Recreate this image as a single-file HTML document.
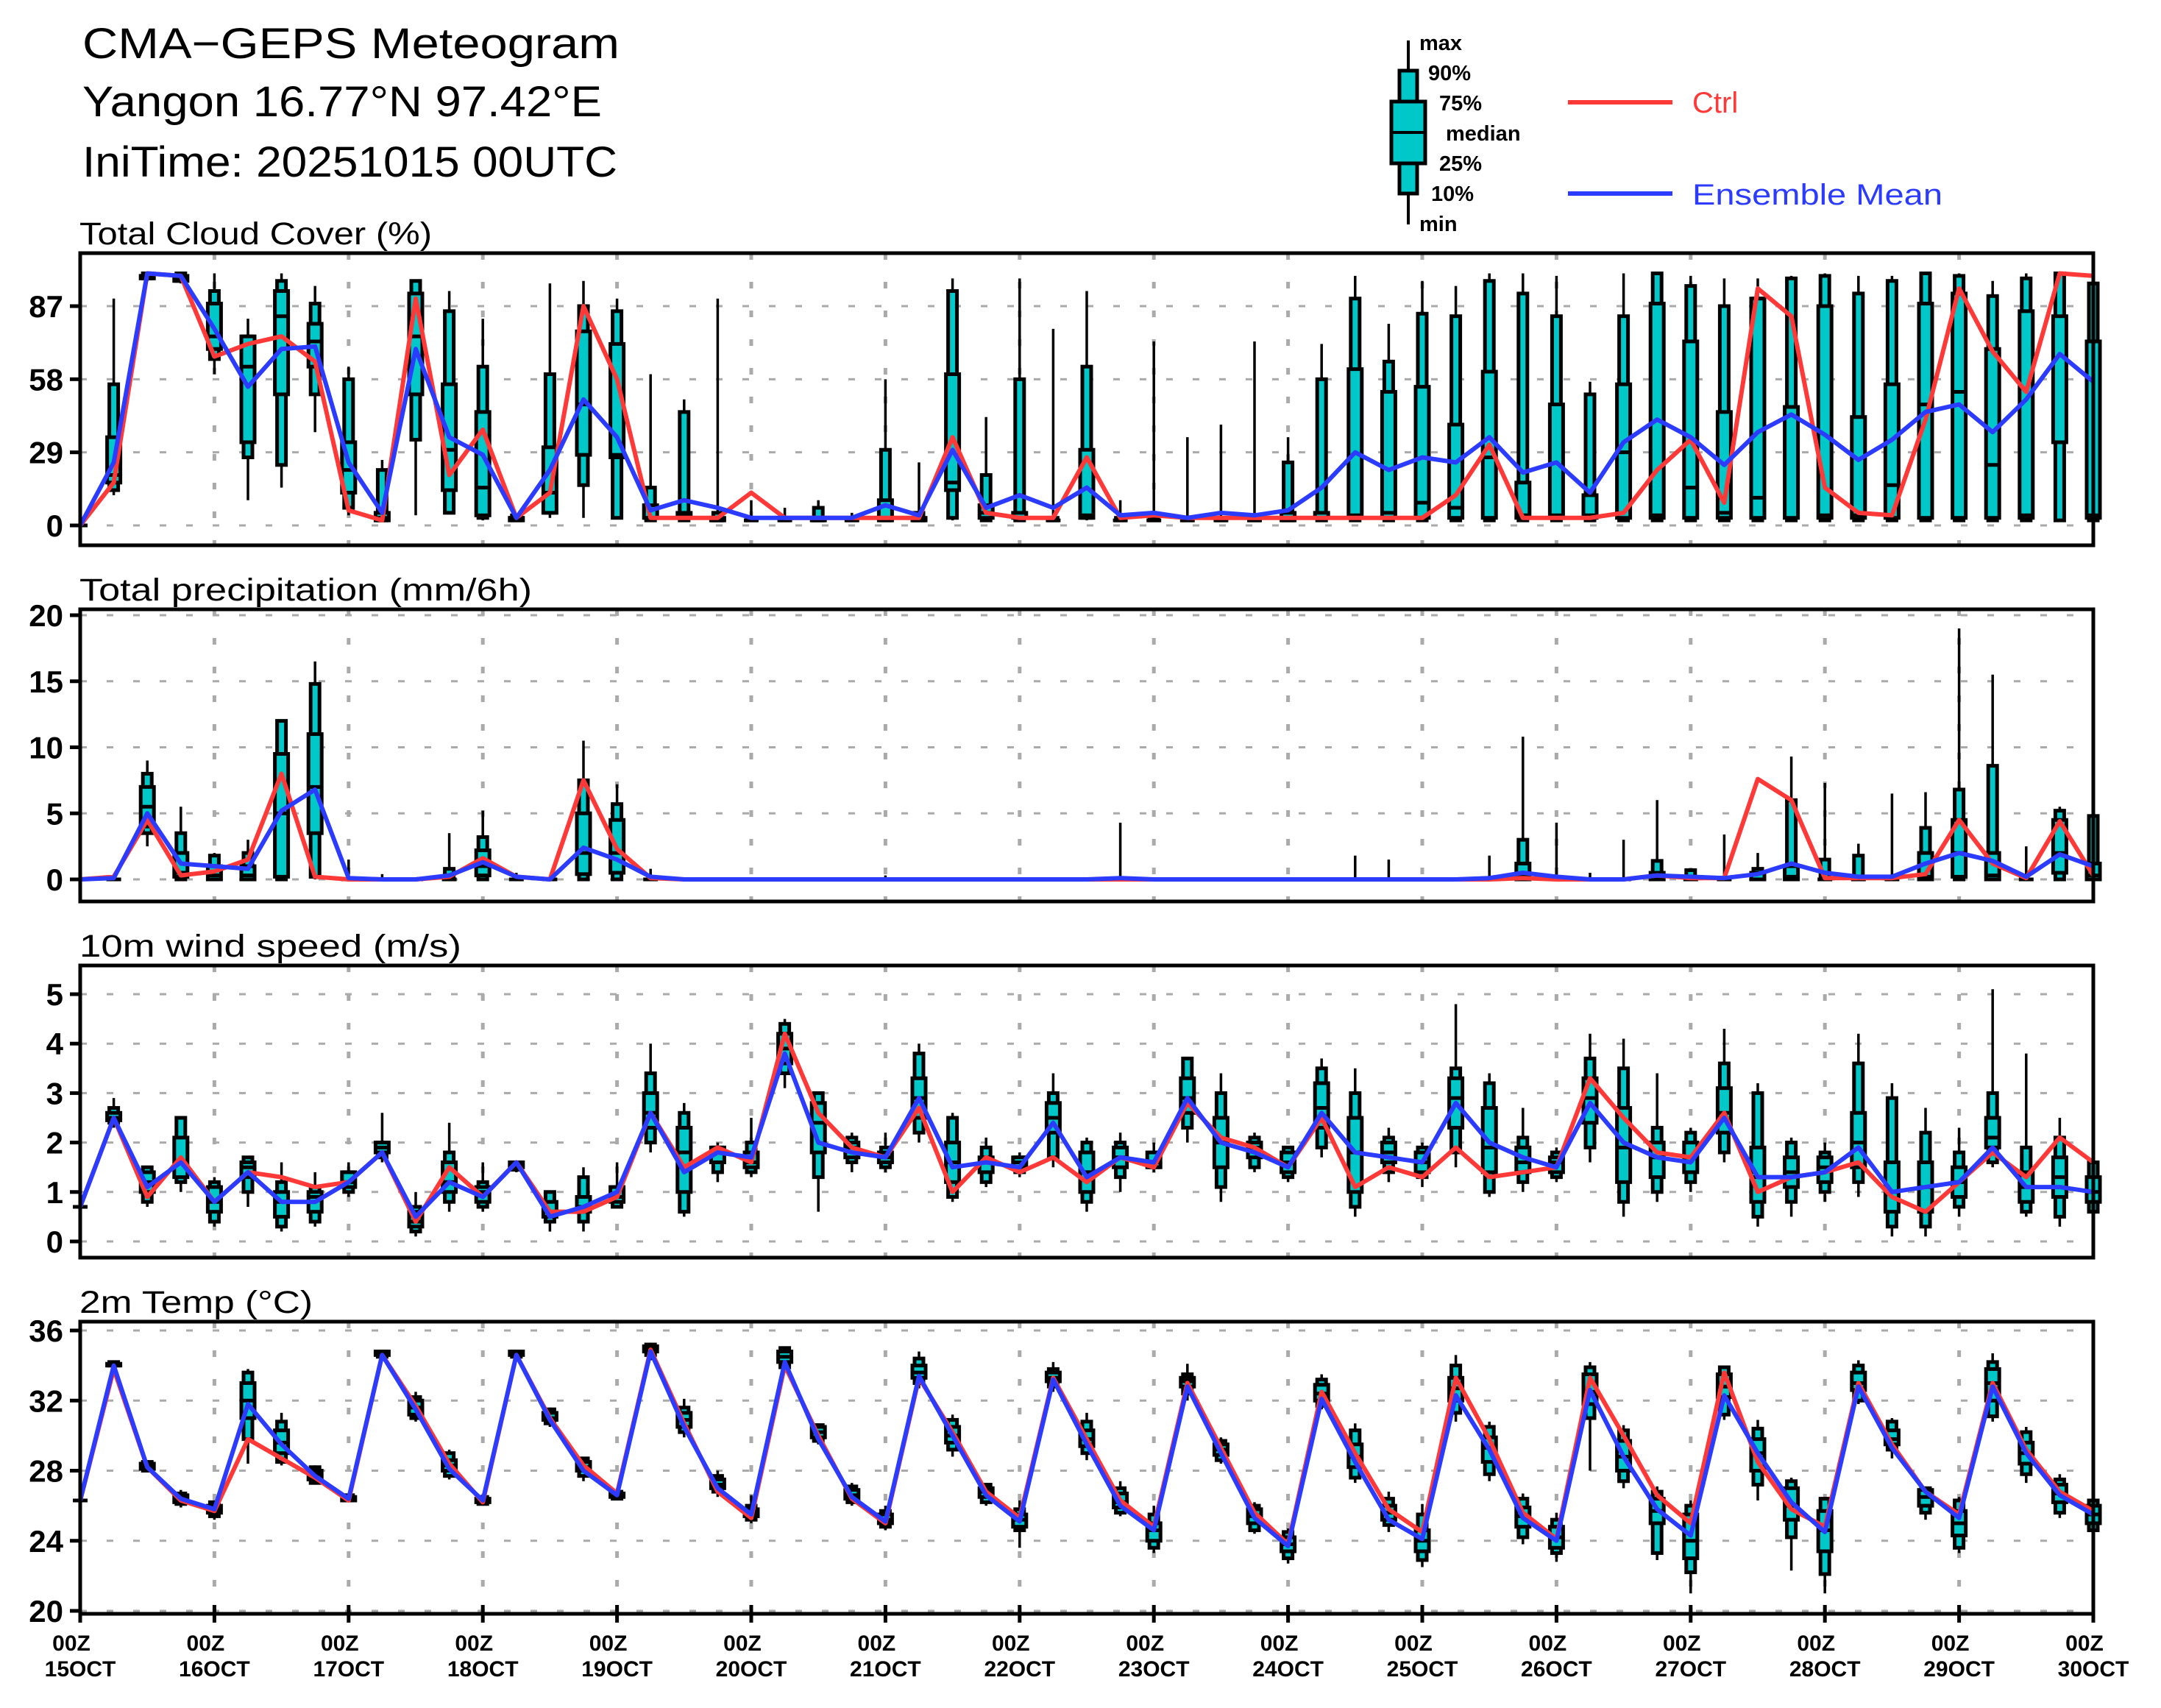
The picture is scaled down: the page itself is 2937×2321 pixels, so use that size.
<!DOCTYPE html>
<html><head><meta charset="utf-8"><title>CMA-GEPS Meteogram</title>
<style>html,body{margin:0;padding:0;background:#fff}svg{display:block}</style></head>
<body>
<svg id="chart" xmlns="http://www.w3.org/2000/svg" width="2937" height="2321" viewBox="0 0 2937 2321">
<rect x="0" y="0" width="2937" height="2321" fill="#fff"/>
<g font-family="Liberation Sans, sans-serif" fill="#000">
<text x="112" y="79" font-size="58" textLength="730" lengthAdjust="spacingAndGlyphs">CMA−GEPS Meteogram</text>
<text x="112" y="158" font-size="58" textLength="706" lengthAdjust="spacingAndGlyphs">Yangon 16.77°N 97.42°E</text>
<text x="112" y="240" font-size="58" textLength="727" lengthAdjust="spacingAndGlyphs">IniTime: 20251015 00UTC</text>
</g>
<g font-family="Liberation Sans, sans-serif" font-weight="bold">
<line x1="1914" y1="55" x2="1914" y2="305" stroke="#000" stroke-width="4"/>
<rect x="1902" y="96" width="24" height="167" fill="#00c8c8" stroke="#000" stroke-width="5"/>
<rect x="1891" y="138" width="46" height="84" fill="#00c8c8" stroke="#000" stroke-width="5"/>
<line x1="1891" y1="180" x2="1937" y2="180" stroke="#000" stroke-width="4"/>
<text x="1929" y="68" font-size="29">max</text>
<text x="1941" y="109" font-size="29">90%</text>
<text x="1956" y="150" font-size="29">75%</text>
<text x="1965" y="191" font-size="29">median</text>
<text x="1956" y="232" font-size="29">25%</text>
<text x="1945" y="273" font-size="29">10%</text>
<text x="1929" y="314" font-size="29">min</text>
<line x1="2131" y1="139" x2="2273" y2="139" stroke="#ff3838" stroke-width="6"/>
<text x="2300" y="153" font-size="40" fill="#ff3838" font-weight="normal">Ctrl</text>
<line x1="2131" y1="263" x2="2273" y2="263" stroke="#2b3bff" stroke-width="6"/>
<text x="2300" y="278" font-size="40" fill="#2b3bff" font-weight="normal" textLength="340" lengthAdjust="spacingAndGlyphs">Ensemble Mean</text>
</g>
<g id="panels"></g>
</svg>
<script>
// ---- Total cloud cover (%) ----
const cloudMin=[0,12,97,96,60,10,15,37,4,2, 4,5,2,2,3,3,3,2,2,2, 2,2,2,2,2,2,2,2,2,2, 2,2,2,2,2,2,2,2,2,2, 2,2,2,2,2,2,2,2,2,2, 2,2,2,2,2,2,2,2,2,2, 2];
const cloudP10=[0,14,98,97,66,27,24,52,7,2, 34,5,3,2,5,16,3,2,2,2, 2,2,2,2,2,2,3,2,2,2, 3,2,2,2,2,2,2,2,2,2, 2,2,2,2,2,2,2,2,2,2, 2,2,2,2,2,2,2,2,2,2, 2];
const cloudP25=[0,17,98,97,70,33,52,63,13,2, 52,14,4,2,5,28,27,3,3,2, 2,2,2,2,2,2,14,3,3,2, 3,2,2,2,2,2,2,3,3,3, 3,3,3,3,3,3,3,3,3,3, 3,3,3,3,3,3,3,3,3,33, 3];
const cloudMed=[0,20,99,98,75,63,83,73,22,3, 75,30,15,3,13,48,28,3,4,2, 2,2,2,2,3,2,17,5,3,2, 4,2,2,2,2,2,3,3,4,5, 9,7,27,4,4,4,29,4,15,5, 11,47,4,4,16,48,53,24,4,33, 4];
const cloudP75=[0,35,99,99,88,75,93,80,33,5, 92,56,45,3,31,77,72,8,5,3, 2,2,3,2,10,3,60,8,5,2, 30,2,2,2,2,2,5,5,62,53, 55,40,61,17,48,12,56,88,73,45, 90,47,87,43,56,88,92,70,85,83, 73];
const cloudP90=[0,56,100,100,93,75,97,88,58,22, 97,85,63,4,60,87,85,15,45,5, 3,3,7,3,30,5,93,20,58,3, 63,3,3,3,3,3,25,58,90,65, 84,83,97,92,83,52,83,100,95,87, 90,98,99,92,97,100,99,91,98,100, 96];
const cloudMax=[0,90,100,100,100,82,100,95,63,26, 97,93,82,4,96,97,90,60,50,90, 10,7,10,5,58,25,98,43,98,78, 93,10,73,35,40,73,35,72,99,80, 97,95,100,100,99,57,100,100,99,98, 98,99,100,99,99,100,100,97,100,100, 100];
const cloudCtrl=[0,17,100,99,67,72,75,65,6,2, 90,20,38,3,13,87,58,3,3,3, 13,3,3,3,3,3,35,5,3,3, 27,3,4,3,3,3,3,3,3,3, 3,12,32,3,3,3,5,22,34,9, 94,83,15,5,4,42,94,69,53,100, 99];
const cloudMean=[0,25,100,99,78,55,70,71,25,5, 70,35,28,3,22,50,35,6,10,7, 3,3,3,3,8,4,30,7,12,7, 15,4,5,3,5,4,6,15,29,22, 27,25,35,21,25,13,33,42,35,24, 37,44,36,26,34,45,48,37,50,68, 57];
const cloudTicks=[0,29,58,87];

// ---- Total precipitation (mm/6h) ----
const precMin=[0,0,2.5,0,0,0,0,0,0,0, 0,0,0,0,0,0,0,0,0,0, 0,0,0,0,0,0,0,0,0,0, 0,0,0,0,0,0,0,0,0,0, 0,0,0,0,0,0,0,0,0,0, 0,0,0,0,0,0,0,0,0,0, 0];
const precP10=[0,0,3.5,0,0,0,0,0.2,0,0, 0,0,0,0,0,0,0,0,0,0, 0,0,0,0,0,0,0,0,0,0, 0,0,0,0,0,0,0,0,0,0, 0,0,0,0,0,0,0,0,0,0, 0,0,0,0,0,0,0,0,0,0, 0];
const precP25=[0,0,4,0.2,0,0,0.2,3.5,0,0, 0,0,0.3,0,0,0.4,0.5,0,0,0, 0,0,0,0,0,0,0,0,0,0, 0,0,0,0,0,0,0,0,0,0, 0,0,0,0,0,0,0,0,0,0, 0,0,0,0,0,0,0.2,0,0,0.5, 0];
const precMed=[0,0,5.5,0.5,0.3,0.3,5,7,0,0, 0,0,1,0,0,2,2,0,0,0, 0,0,0,0,0,0,0,0,0,0, 0,0,0,0,0,0,0,0,0,0, 0,0,0,0.2,0,0,0,0,0,0, 0,0.2,0,0,0,0.2,2,0.3,0,2, 0.3];
const precP75=[0,0,7,2,1,1,9.5,11,0,0, 0,0,2.2,0,0,5,4.5,0,0,0, 0,0,0,0,0,0,0,0,0,0, 0,0,0,0,0,0,0,0,0,0, 0,0,0,1.2,0,0,0,0.5,0,0, 0.5,1,0,0,0,2,4.5,2,0,4.5, 1.2];
const precP90=[0,0,8,3.5,1.8,2,12,14.8,0,0, 0,0.8,3.2,0,0,7.5,5.7,0,0,0, 0,0,0,0,0,0,0,0,0,0, 0,0,0,0,0,0,0,0,0,0, 0,0,0,3,0,0,0,1.4,0.7,0, 0.8,6,1.5,1.8,0,3.9,6.8,8.6,0,5.2, 4.8];
const precMax=[0,0,9,5.5,2,3,12,16.5,1.5,0.4, 0,3.5,5.2,0.5,0,10.5,7.2,0.8,0,0, 0,0,0,0,0.3,0,0,0,0,0, 0,4.3,0,0,0,0,0,0,1.8,1.5, 0,0,1.8,10.8,4.3,0.5,3,6,0.8,3.4, 2,9.3,7.3,2.7,6.5,6.6,19,15.5,2.5,5.5, 4.8];
const precCtrl=[0,0.2,4.5,0.3,0.6,1.5,8,0.2,0,0, 0,0.2,1.6,0.2,0,7.5,2.3,0.1,0,0, 0,0,0,0,0,0,0,0,0,0, 0,0,0,0,0,0,0,0,0,0, 0,0,0,0.1,0,0,0,0.3,0.1,0.1, 7.6,6,0.1,0.1,0.1,0.4,4.5,1.2,0.1,4.4, 0.3];
const precMean=[0,0.1,5,1.2,1.0,0.8,5.2,6.8,0.1,0, 0,0.3,1.3,0.2,0,2.4,1.5,0.2,0,0, 0,0,0,0,0,0,0,0,0,0, 0,0.1,0,0,0,0,0,0,0,0, 0,0,0.1,0.5,0.2,0,0,0.3,0.2,0.1, 0.4,1.2,0.5,0.2,0.2,1.2,2.0,1.4,0.2,1.9, 1.0];
const precTicks=[0,5,10,15,20];

// ---- 10m wind speed (m/s) ----
const windMin=[0.7,2.3,0.7,1.0,0.3,0.7,0.2,0.3,0.9,1.6, 0.1,0.6,0.6,1.4,0.2,0.2,0.7,1.8,0.5,1.2, 1.3,3.1,0.6,1.4,1.4,2.0,0.8,1.1,1.3,1.5, 0.6,1.0,1.4,2.0,0.8,1.4,1.2,1.7,0.5,1.2, 1.1,1.5,0.9,1.0,1.2,1.6,0.5,0.8,1.0,1.6, 0.3,0.5,0.8,0.9,0.1,0.1,0.5,1.5,0.5,0.3, 0.5];
const windP10=[0.7,2.4,0.8,1.2,0.4,1.0,0.3,0.4,1.0,1.7, 0.2,0.8,0.7,1.45,0.4,0.4,0.7,2.0,0.6,1.4, 1.4,3.4,1.3,1.6,1.5,2.2,0.9,1.2,1.4,1.7, 0.8,1.3,1.5,2.3,1.1,1.5,1.3,1.9,0.7,1.4, 1.3,1.8,1.0,1.2,1.3,1.9,0.8,1.0,1.2,1.8, 0.5,0.8,1.0,1.2,0.3,0.3,0.7,1.6,0.6,0.5, 0.6];
const windP25=[0.7,2.45,1.0,1.3,0.6,1.3,0.5,0.6,1.1,1.8, 0.3,1.0,0.8,1.5,0.5,0.6,0.8,2.3,1.0,1.6, 1.5,3.6,1.8,1.7,1.6,2.5,1.2,1.4,1.5,2.2, 1.0,1.5,1.5,2.6,1.5,1.7,1.4,2.3,1.0,1.6, 1.4,2.3,1.4,1.4,1.4,2.4,1.2,1.3,1.4,2.2, 0.8,1.1,1.2,1.5,0.6,0.6,0.9,1.9,0.8,0.9, 0.8];
const windMed=[0.7,2.5,1.2,1.6,0.8,1.5,0.8,0.9,1.2,1.9, 0.4,1.2,1.0,1.55,0.6,0.7,0.9,2.6,1.8,1.8, 1.6,3.9,2.4,1.9,1.7,2.9,1.6,1.6,1.6,2.5, 1.4,1.7,1.6,2.9,2.0,1.9,1.6,2.7,1.8,1.8, 1.6,2.9,1.9,1.6,1.6,2.9,1.9,1.7,1.7,2.6, 1.3,1.4,1.5,2.0,1.0,1.1,1.2,2.1,1.1,1.3, 1.0];
const windP75=[0.7,2.6,1.4,2.1,1.1,1.6,1.0,1.0,1.4,2.0, 0.6,1.6,1.1,1.6,0.8,0.9,1.1,3.0,2.3,1.9, 1.8,4.2,2.8,2.0,1.8,3.3,2.0,1.7,1.7,2.8, 1.8,1.9,1.8,3.3,2.5,2.0,1.8,3.2,2.5,2.0, 1.8,3.3,2.7,1.9,1.7,3.3,2.7,2.0,2.0,3.1, 1.9,1.7,1.7,2.6,1.6,1.6,1.5,2.5,1.4,1.7, 1.3];
const windP90=[0.7,2.7,1.5,2.5,1.2,1.7,1.2,1.1,1.4,2.0, 0.7,1.8,1.2,1.6,1.0,1.3,1.1,3.4,2.6,1.9, 2.0,4.4,3.0,2.1,1.9,3.8,2.5,1.9,1.7,3.0, 2.0,2.0,1.8,3.7,3.0,2.1,1.9,3.5,3.0,2.1, 1.9,3.5,3.2,2.1,1.8,3.7,3.5,2.3,2.2,3.6, 3.0,2.0,1.8,3.6,2.9,2.2,1.8,3.0,1.9,2.1, 1.6];
const windMax=[0.7,2.9,1.5,2.5,1.3,1.7,1.6,1.4,1.6,2.6, 1.0,2.4,1.6,1.6,1.0,1.5,1.6,4.0,2.8,2.0, 2.5,4.5,3.0,2.2,2.2,4.0,2.6,2.1,1.8,3.4, 2.1,2.2,2.0,3.7,3.4,2.2,1.9,3.7,3.5,2.3, 2.0,4.8,3.4,2.7,1.9,4.2,4.1,3.4,2.3,4.3, 3.2,2.1,2.0,4.2,3.2,2.7,2.3,5.1,3.8,2.5, 1.8];
const windCtrl=[0.7,2.5,0.9,1.7,0.8,1.4,1.3,1.1,1.2,1.8, 0.4,1.5,0.9,1.6,0.6,0.6,0.9,2.6,1.5,1.9, 1.6,4.2,2.6,1.9,1.7,2.7,1.0,1.7,1.4,1.7, 1.2,1.7,1.5,2.8,2.1,1.9,1.5,2.5,1.1,1.5, 1.3,1.9,1.3,1.4,1.5,3.3,2.5,1.8,1.7,2.6, 1.0,1.3,1.4,1.6,0.9,0.6,1.2,1.8,1.3,2.1, 1.6];
const windMean=[0.7,2.5,1.1,1.6,0.8,1.4,0.8,0.8,1.2,1.8, 0.5,1.2,0.9,1.6,0.5,0.7,1.0,2.6,1.4,1.8, 1.7,3.8,2.0,1.8,1.7,2.9,1.5,1.6,1.5,2.4, 1.3,1.7,1.6,2.9,2.0,1.8,1.5,2.6,1.8,1.7, 1.6,2.8,2.0,1.7,1.5,2.8,2.0,1.7,1.6,2.5, 1.3,1.3,1.4,1.9,1.0,1.1,1.2,1.9,1.1,1.1, 1.0];
const windTicks=[0,1,2,3,4,5];

// ---- 2m temperature (°C) ----
const tempMin=[26.3,33.9,27.9,25.9,25.2,28.4,28.3,27.2,26.2,34.4, 30.8,27.5,26.0,34.5,30.5,27.4,26.3,34.3,29.9,26.5, 25.0,33.6,29.5,26.0,24.6,32.7,28.8,26.0,23.6,32.5, 28.6,25.4,23.3,32.0,28.4,24.4,22.7,31.5,27.3,24.5, 22.5,30.8,27.4,23.8,22.8,28.0,27.0,22.9,21.0,30.9, 26.3,22.3,21.0,31.8,28.7,25.2,23.3,30.8,27.3,25.3, 24.2];
const tempP10=[26.3,34.0,28.0,26.1,25.4,29.8,28.5,27.3,26.3,34.5, 31.0,27.7,26.1,34.5,30.7,27.7,26.4,34.6,30.2,26.8, 25.2,33.9,29.7,26.2,24.8,33.0,29.2,26.2,24.6,32.8, 29.0,25.6,23.6,32.4,28.6,24.6,23.0,31.7,27.6,24.9, 22.9,31.3,27.8,24.2,23.3,31.0,27.4,23.3,22.2,31.2, 27.2,24.2,22.1,32.0,29.2,25.6,23.6,31.1,27.8,25.6, 24.6];
const tempP25=[26.3,34.0,28.1,26.2,25.6,31.0,29.0,27.5,26.3,34.6, 31.2,28.0,26.2,34.6,30.9,28.0,26.5,34.8,30.5,27.0, 25.4,34.2,29.9,26.4,25.0,33.3,29.6,26.5,24.8,33.1, 29.4,25.9,24.0,32.8,28.9,25.0,23.4,32.0,28.2,25.2, 23.4,32.0,28.5,24.8,23.6,31.8,28.0,25.0,23.0,32.2, 28.0,25.2,23.4,32.6,29.5,26.0,24.3,32.0,28.4,26.2, 25.0];
const tempMed=[26.3,34.0,28.2,26.4,25.8,32.0,29.6,27.8,26.4,34.7, 31.6,28.3,26.3,34.7,31.0,28.2,26.6,34.9,30.9,27.2, 25.6,34.5,30.2,26.6,25.2,33.6,30.0,26.8,25.2,33.3, 29.8,26.2,24.6,33.1,29.2,25.4,23.8,32.4,28.8,25.6, 24.0,32.7,29.3,25.4,24.2,32.5,28.8,25.7,24.0,32.8, 29.0,26.0,24.6,33.0,29.8,26.5,25.0,33.0,29.0,26.7, 25.5];
const tempP75=[26.3,34.1,28.4,26.6,26.0,33.0,30.3,28.0,26.5,34.8, 32.0,28.6,26.4,34.8,31.3,28.5,26.7,35.1,31.3,27.5, 25.8,34.8,30.5,26.9,25.5,34.0,30.5,27.0,25.5,33.6, 30.3,26.7,25.0,33.3,29.5,25.8,24.2,32.9,29.5,26.0, 24.6,33.3,29.9,25.9,24.8,33.5,29.7,26.4,25.5,33.5, 29.8,27.0,25.7,33.6,30.3,26.9,25.7,33.8,29.6,27.2, 26.0];
const tempP90=[26.3,34.2,28.5,26.7,26.2,33.6,30.8,28.2,26.6,34.8, 32.2,29.0,26.5,34.8,31.5,28.7,26.8,35.2,31.6,27.7, 26.0,35.0,30.6,27.1,25.7,34.4,30.9,27.2,25.8,33.8, 30.8,27.0,25.5,33.5,29.7,26.0,24.5,33.2,30.3,26.4, 25.5,34.0,30.5,26.4,25.2,33.9,30.3,26.8,26.0,33.9, 30.4,27.4,26.4,34.0,30.8,27.0,26.3,34.2,30.2,27.5, 26.3];
const tempMax=[26.3,34.2,28.6,26.9,26.3,33.8,31.3,28.3,26.6,34.9, 32.5,29.2,26.6,34.9,31.6,28.7,26.8,35.3,32.1,28.0, 26.6,35.0,30.7,27.3,26.0,34.8,31.2,27.3,26.3,34.2, 31.3,27.4,26.0,34.1,29.9,26.2,24.7,33.5,30.7,26.8, 26.1,34.6,30.8,26.7,25.6,34.2,30.6,27.1,26.3,34.0, 30.9,27.6,26.5,34.3,31.0,27.1,26.5,34.7,30.5,27.8, 26.5];
const tempCtrl=[26.3,33.8,28.2,26.3,25.7,29.8,28.7,27.6,26.3,34.6, 31.7,28.4,26.2,34.6,31.0,28.3,26.7,34.9,30.7,26.8, 25.3,34.0,30.0,26.4,25.0,33.3,30.2,26.8,25.3,33.3, 29.8,26.3,24.8,33.0,29.3,25.6,23.8,32.5,29.0,25.8, 24.5,33.3,29.8,25.6,24.1,33.3,30.0,26.6,25.0,33.6, 28.5,25.8,24.8,33.0,29.5,26.8,25.5,33.0,29.2,26.8, 25.7];
const tempMean=[26.3,34.0,28.2,26.4,25.8,31.8,29.5,27.7,26.4,34.6, 31.5,28.1,26.3,34.6,30.9,28.0,26.6,34.8,30.5,27.0, 25.5,34.2,29.8,26.5,25.1,33.4,30.0,26.6,25.1,33.2, 29.5,26.0,24.6,32.8,29.0,25.3,23.7,32.1,28.5,25.2, 24.1,32.3,29.2,25.3,24.0,32.6,28.8,25.8,24.3,32.3, 29.0,26.2,24.5,32.8,29.3,26.8,25.3,32.8,29.0,26.6, 25.5];
const tempTicks=[20,24,28,32,36];

// ---- time axis ----
const dayLabels=["15OCT","16OCT","17OCT","18OCT","19OCT","20OCT","21OCT","22OCT","23OCT","24OCT","25OCT","26OCT","27OCT","28OCT","29OCT","30OCT"];

const NS="http://www.w3.org/2000/svg";
const LEFT=109, RIGHT=2845, NSTEP=60, PH=397;
function xAt(i){return LEFT+(RIGHT-LEFT)*i/NSTEP;}
function mk(tag,attrs,parent){const e=document.createElementNS(NS,tag);for(const k in attrs)e.setAttribute(k,attrs[k]);parent.appendChild(e);return e;}
function linScale(v0,y0,v1,y1){return v=>y0+(v-v0)*(y1-y0)/(v1-v0);}

const root=document.getElementById('panels');
const panels=[
 {key:'cloud',title:'Total Cloud Cover (%)',tw:479,top:344,scale:linScale(0,344+370,87,344+72),ticks:cloudTicks,
  s:[cloudMin,cloudP10,cloudP25,cloudMed,cloudP75,cloudP90,cloudMax],ctrl:cloudCtrl,mean:cloudMean},
 {key:'precip',title:'Total precipitation (mm/6h)',tw:615,top:828,scale:linScale(0,828+367,20,828+8),ticks:precTicks,
  s:[precMin,precP10,precP25,precMed,precP75,precP90,precMax],ctrl:precCtrl,mean:precMean},
 {key:'wind',title:'10m wind speed (m/s)',tw:519,top:1312,scale:linScale(0,1312+375,5,1312+39),ticks:windTicks,
  s:[windMin,windP10,windP25,windMed,windP75,windP90,windMax],ctrl:windCtrl,mean:windMean},
 {key:'temp',title:'2m Temp (°C)',tw:317,top:1796,scale:linScale(20,1796+393,36,1796+12),ticks:tempTicks,
  s:[tempMin,tempP10,tempP25,tempMed,tempP75,tempP90,tempMax],ctrl:tempCtrl,mean:tempMean}
];

panels.forEach((p,pi)=>{
 const g=mk('g',{},root);
 
 
 const T=p.top, B=T+PH, Y=p.scale;
 const t=mk('text',{x:108,y:T-12,'font-family':'Liberation Sans, sans-serif','font-size':43,textLength:p.tw,lengthAdjust:'spacingAndGlyphs'},g);
 t.textContent=p.title;
 
 
 p.ticks.forEach(v=>{
  const y=Y(v);
  const gl=mk('line',{x1:LEFT,x2:RIGHT,y1:y,y2:y,stroke:'#aaa','stroke-width':3,'stroke-dasharray':'9 27'},g);
  
  
  const tk=mk('line',{x1:95,x2:LEFT,y1:y,y2:y,stroke:'#000','stroke-width':5},g);
  
  
  const lb=mk('text',{x:86,y:y+15,'text-anchor':'end','font-family':'Liberation Sans Narrow, Liberation Sans, sans-serif','font-weight':'bold','font-size':42},g);
  lb.textContent=String(v);
  
  
 });
 for(let d=1;d<15;d++){
  const x=xAt(d*4);
  const vl=mk('line',{x1:x,x2:x,y1:T,y2:B,stroke:'#aaa','stroke-width':5,'stroke-dasharray':'9 30'},g);
  
  
 }
 for(let i=0;i<=NSTEP;i++){
  const x=xAt(i), s=p.s.map(a=>Y(a[i]));
  const bg=mk('g',{},g);
  
  
  mk('line',{x1:x,x2:x,y1:s[0],y2:s[6],stroke:'#000','stroke-width':3.5},bg);
  mk('rect',{x:x-6,y:s[5],width:12,height:Math.max(0,s[1]-s[5]),fill:'#00c8c8',stroke:'#000','stroke-width':5},bg);
  mk('rect',{x:x-9,y:s[4],width:18,height:Math.max(0,s[2]-s[4]),fill:'#00c8c8',stroke:'#000','stroke-width':5},bg);
  mk('line',{x1:x-10,x2:x+10,y1:s[3],y2:s[3],stroke:'#000','stroke-width':5},bg);
 }
 const ptsC=p.ctrl.map((v,i)=>xAt(i)+','+Y(v)).join(' ');
 const lc=mk('polyline',{points:ptsC,fill:'none',stroke:'#ff3838','stroke-width':6,'stroke-linejoin':'round'},g);
 
 
 const ptsM=p.mean.map((v,i)=>xAt(i)+','+Y(v)).join(' ');
 const lm=mk('polyline',{points:ptsM,fill:'none',stroke:'#2b3bff','stroke-width':6,'stroke-linejoin':'round'},g);
 
 
 const fr=mk('rect',{x:LEFT,y:T,width:RIGHT-LEFT,height:PH,fill:'none',stroke:'#000','stroke-width':5},g);
 
 
 if(pi===3){
  dayLabels.forEach((lab,d)=>{
   const x=xAt(d*4);
   const tk=mk('line',{x1:x,x2:x,y1:B-12,y2:B+12,stroke:'#000','stroke-width':5},g);
   
   
   const a=mk('text',{x:x-12,y:2243,'text-anchor':'middle','font-family':'Liberation Sans Narrow, Liberation Sans, sans-serif','font-weight':'bold','font-size':30},g);
   a.textContent='00Z';
   
   
   const b=mk('text',{x:x,y:2278,'text-anchor':'middle','font-family':'Liberation Sans Narrow, Liberation Sans, sans-serif','font-weight':'bold','font-size':30},g);
   b.textContent=lab;
   
   
  });
 }
});
</script>
</body></html>
